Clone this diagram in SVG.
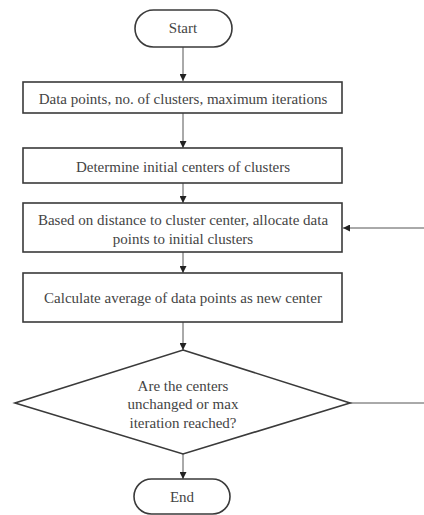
<svg xmlns="http://www.w3.org/2000/svg" width="424" height="515" viewBox="0 0 424 515">
<style>
.s{fill:#fff;stroke:#3a3a3a;stroke-width:1.6}
.t{font-family:"Liberation Serif","DejaVu Serif",serif;font-size:15px;fill:#444;text-anchor:middle}
.c{fill:none;stroke:#555;stroke-width:1}
</style>
<defs>
<marker id="a" viewBox="0 0 10 10" refX="10" refY="5" markerWidth="7" markerHeight="7" orient="auto" markerUnits="userSpaceOnUse">
<path d="M0,0 L10,5 L0,10 z" fill="#222"/>
</marker>
</defs>
<rect width="424" height="515" fill="#fff"/>
<g id="connectors">
<line class="c" x1="183" y1="47" x2="183" y2="81" marker-end="url(#a)"/>
<line class="c" x1="183" y1="113" x2="183" y2="148" marker-end="url(#a)"/>
<line class="c" x1="183" y1="183" x2="183" y2="203" marker-end="url(#a)"/>
<line class="c" x1="183" y1="252" x2="183" y2="273" marker-end="url(#a)"/>
<line class="c" x1="183" y1="322" x2="183" y2="350" marker-end="url(#a)"/>
<line class="c" x1="183" y1="454" x2="183" y2="479" marker-end="url(#a)"/>
<line class="c" x1="350" y1="403" x2="424" y2="403"/>
<line class="c" x1="424" y1="228" x2="343" y2="228" marker-end="url(#a)"/>
</g>
<g id="start">
<rect class="s" x="135" y="10" width="97" height="37" rx="18.5"/>
<text class="t" x="183" y="33">Start</text>
</g>
<g id="input">
<rect class="s" x="23" y="82" width="319" height="31"/>
<text class="t" x="183" y="104">Data points, no. of clusters, maximum iterations</text>
</g>
<g id="init">
<rect class="s" x="23" y="148" width="319" height="35"/>
<text class="t" x="183" y="172">Determine initial centers of clusters</text>
</g>
<g id="allocate">
<rect class="s" x="23" y="203" width="319" height="49"/>
<text class="t" x="183" y="225">Based on distance to cluster center, allocate data</text>
<text class="t" x="183" y="244">points to initial clusters</text>
</g>
<g id="average">
<rect class="s" x="23" y="273" width="319" height="49"/>
<text class="t" x="183" y="303">Calculate average of data points as new center</text>
</g>
<g id="decision">
<polygon class="s" points="183,350 350,403 183,454 15,403"/>
<text class="t" x="183" y="391">Are the centers</text>
<text class="t" x="183" y="409">unchanged or max</text>
<text class="t" x="183" y="428">iteration reached?</text>
</g>
<g id="end">
<rect class="s" x="134" y="479" width="96" height="35" rx="17.5"/>
<text class="t" x="182" y="502">End</text>
</g>
</svg>
